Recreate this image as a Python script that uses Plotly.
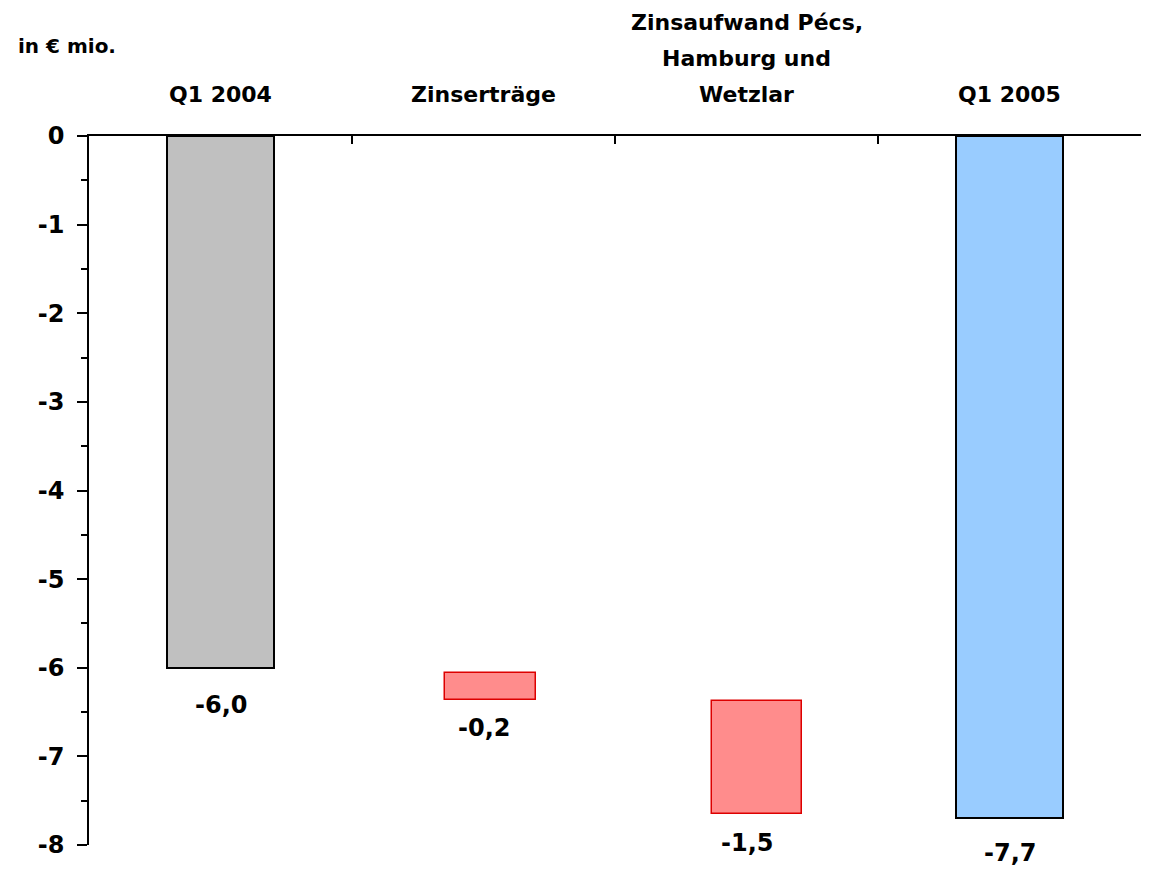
import plotly.graph_objects as go

# ---- data ----
categories = ["Q1 2004", "Zinserträge", "Zinsaufwand Pécs,<br>Hamburg und<br>Wetzlar", "Q1 2005"]
bar_bases = [0.0, -6.06, -6.38, 0.0]
bar_lengths = [-6.0, -0.30, -1.27, -7.70]
value_labels = ["-6,0", "-0,2", "-1,5", "-7,7"]
y_tick_values = [0, -1, -2, -3, -4, -5, -6, -7, -8]
y_tick_labels = ["0", "-1", "-2", "-3", "-4", "-5", "-6", "-7", "-8"]
unit_label = "in € mio."

# ---- styles ----
FONT = "DejaVu Sans"
fill_colors = ["#C0C0C0", "#FF8C8C", "#FF8C8C", "#99CCFF"]
line_colors = ["#000000", "#DD0000", "#DD0000", "#000000"]
line_widths = [2, 1.5, 1.5, 2]
bar_widths = [0.41, 0.346, 0.342, 0.41]
bar_offsets = [-0.205, -0.146, -0.132, -0.205]
label_yshifts = [-21, -12, -13, -19]

fig = go.Figure()
fig.add_trace(go.Bar(
    x=categories,
    y=bar_lengths,
    base=bar_bases,
    width=bar_widths,
    offset=bar_offsets,
    marker=dict(color=fill_colors, line=dict(color=line_colors, width=line_widths)),
    showlegend=False,
    hoverinfo="skip",
))

annotations = []
# value labels under each bar end
for cat, b, v, lab, ys in zip(categories, bar_bases, bar_lengths, value_labels, label_yshifts):
    annotations.append(dict(
        x=cat, y=b + v, xref="x", yref="y", text=lab, showarrow=False,
        xanchor="center", yanchor="top", yshift=ys,
        font=dict(family=FONT, size=24, color="black", weight="bold"),
    ))

# category labels above the top axis, one annotation per text line
line_gap = 36
for cat in categories:
    lines = cat.split("<br>")
    n = len(lines)
    for i, ln in enumerate(lines):
        annotations.append(dict(
            x=cat, y=1, xref="x", yref="paper", text=ln, showarrow=False,
            xanchor="center", yanchor="bottom", yshift=27 + (n - 1 - i) * line_gap,
            font=dict(family=FONT, size=22, color="black", weight="bold"),
        ))

annotations.append(dict(
    x=-0.0694, y=1.127, xref="paper", yref="paper", text=unit_label, showarrow=False,
    xanchor="left", yanchor="middle",
    font=dict(family=FONT, size=20, color="black", weight="bold"),
))

# the page body adds an 8px margin, so the figure is sized/offset to compensate
fig.update_layout(
    width=1141, height=865,
    margin=dict(l=81, r=8, t=128, b=28),
    paper_bgcolor="white", plot_bgcolor="white",
    annotations=annotations,
    bargap=0,
)
fig.update_xaxes(
    side="top", showline=True, linecolor="black", linewidth=1.5,
    ticks="inside", ticklen=8, tickwidth=1.5, tickcolor="black",
    tickson="boundaries", showticklabels=False, showgrid=False, zeroline=False,
    range=[-0.5, 3.5],
)
fig.update_yaxes(
    range=[-8, 0], tickvals=y_tick_values, ticktext=y_tick_labels,
    showline=True, linecolor="black", linewidth=1.5,
    ticks="outside", ticklen=10, tickwidth=1.5, tickcolor="black",
    minor=dict(tick0=0, dtick=0.5, ticks="outside", ticklen=6, tickwidth=1.5, tickcolor="black"),
    showgrid=False, zeroline=False, ticklabelstandoff=8,
    tickfont=dict(family=FONT, size=24, color="black", weight="bold"),
)

fig.write_html("out.html")
